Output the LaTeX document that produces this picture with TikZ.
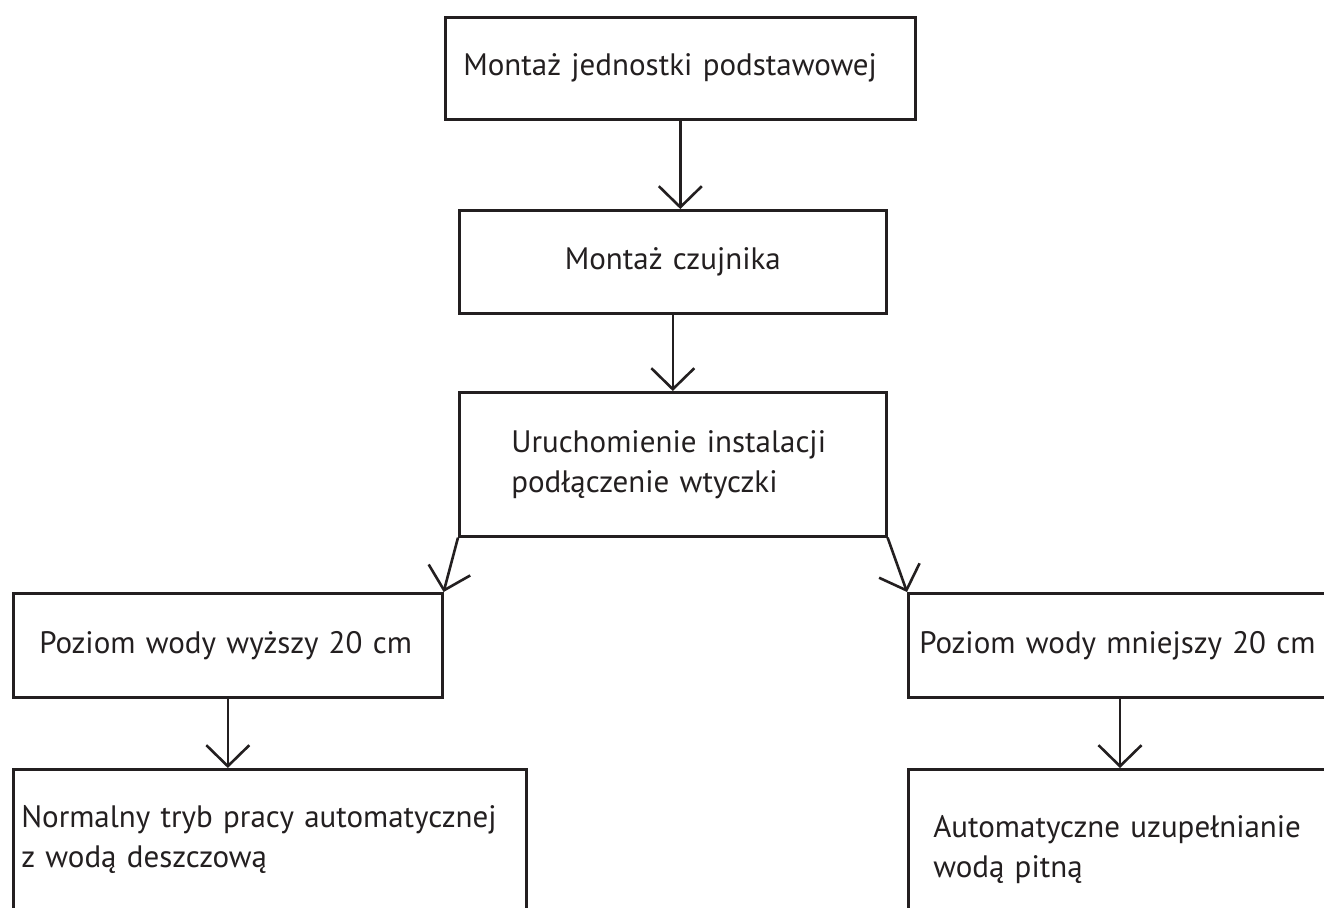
\documentclass[tikz,border=0pt]{standalone}
\usepackage{fontspec}
\setmainfont{PT Sans}
\usetikzlibrary{arrows.meta,calc}
\definecolor{ink}{HTML}{231F20}
\begin{document}
\begin{tikzpicture}[x=0.5pt,y=-0.5pt,
  box/.style={draw=ink,line width=1.3pt,rectangle,inner ysep=0pt,text=ink,
    font=\fontsize{15.5}{20}\selectfont,anchor=north west},
  arr/.style={draw=ink,line width=1.3pt,-{Straight Barb[length=10.5pt,width=21.5pt,line width=1.3pt]}}]
\useasboundingbox (0,0) rectangle (1324,907);
\clip (0,0) rectangle (1324,907);
\fill[white] (0,0) rectangle (1324,907);
\node[box,minimum width=235pt,minimum height=51pt,inner xsep=9pt,text width=217pt,align=left] (b1) at (444,16) {Montaż jednostki podstawowej};
\node[box,minimum width=213.5pt,minimum height=51.5pt,inner xsep=9pt,text width=195.5pt,align=center] (b2) at (458,209) {Montaż czujnika};
\node[box,minimum width=213.5pt,minimum height=72pt,inner xsep=26pt,text width=161.5pt,align=left] (b3) at (458,391) {Uruchomienie instalacji\\podłączenie wtyczki};
\node[box,minimum width=214.5pt,minimum height=52pt,inner xsep=13pt,text width=188.5pt,align=left] (b4l) at (12,592) {\mbox{Poziom wody wyższy 20 cm}};
\node[box,minimum width=256.5pt,minimum height=70pt,inner xsep=4pt,text width=248.5pt,align=left] (b5l) at (12,768) {Normalny tryb pracy automatycznej\\z wodą deszczową};
\node[box,minimum width=220pt,minimum height=52pt,inner xsep=5.5pt,text width=209pt,align=left] (b4r) at (907,592) {\mbox{Poziom wody mniejszy 20 cm}};
\node[box,minimum width=220pt,minimum height=80pt,inner xsep=12.5pt,text width=195pt,align=left] (b5r) at (907,768) {Automatyczne uzupełnianie\\wodą pitną};
\draw[arr] (b1.south) -- (b1.south |- b2.north);
\draw[arr] (b2.south) -- (b3.north);
\draw[arr] (b3.south west) -- (b4l.north east);
\draw[arr] (b3.south east) -- (b4r.north west);
\draw[arr] (b4l.south) -- (b4l.south |- b5l.north);
\path (b4r.south west) ++(213,0) coordinate (rs);
\draw[arr] (rs) -- (rs |- b5r.north);
\end{tikzpicture}
\end{document}
